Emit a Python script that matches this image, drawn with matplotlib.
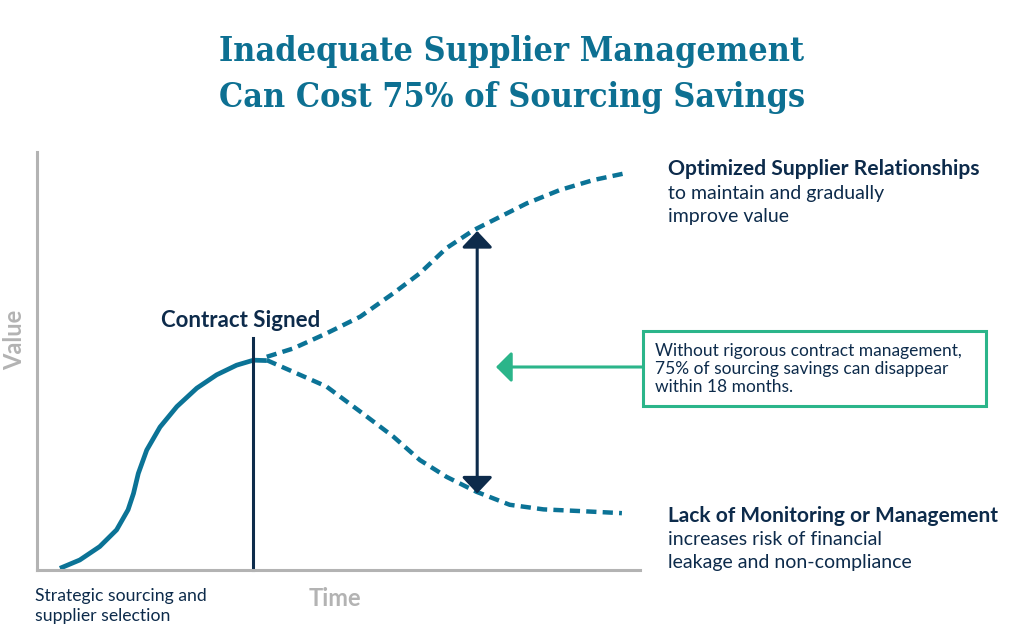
import numpy as np
import matplotlib
matplotlib.use("Agg")
import matplotlib.pyplot as plt
from matplotlib.patches import FancyArrowPatch, Rectangle

# values (time and value both on a 0-100 scale)
base_t = [3.8, 7.1, 10.4, 13.2, 15.1, 16.0, 16.8, 18.2, 20.4, 23.2, 26.5, 29.8, 33.1, 35.9, 38.1]
base_v = [0.4, 2.4, 5.6, 9.6, 14.4, 18.3, 23.1, 28.7, 34.2, 39.1, 43.5, 46.7, 49.0, 50.2, 50.1]

up_t = [38.1, 42.5, 48.0, 53.6, 59.1, 63.5, 67.9, 72.4, 76.8, 81.2, 86.7, 92.3, 97.5]
up_v = [51.0, 53.0, 56.6, 60.6, 66.2, 71.0, 77.0, 81.3, 84.5, 87.7, 90.9, 93.3, 94.9]

low_t = [38.1, 42.5, 48.0, 53.6, 59.1, 63.5, 67.9, 72.9, 78.4, 84.0, 90.0, 97.0]
low_v = [50.2, 47.4, 43.9, 37.9, 31.9, 26.3, 22.3, 18.7, 15.6, 14.5, 14.1, 13.6]

contract_t = 35.8
contract_top = 55.5
gap_t = 73.0
gap_top = 81.1
gap_bottom = 18.3

title_lines = ["Inadequate Supplier Management", "Can Cost 75% of Sourcing Savings"]
note = "Without rigorous contract management,\n75% of sourcing savings can disappear\nwithin 18 months."

TEAL = "#0b7396"
NAVY = "#0d2b4b"
GRAY = "#b3b3b3"
GREEN = "#2bb58a"
TITLE = "#0d7092"

plt.rcParams['font.family'] = ['Lato', 'DejaVu Sans']

W, H = 1024, 642
fig = plt.figure(figsize=(W / 100, H / 100), dpi=100)


def px(x, y):
    return x / W, 1 - y / H


ax = fig.add_axes([37 / W, (H - 570) / H, 603 / W, 418 / H])
ax.set_xlim(0, 100)
ax.set_ylim(0, 100)
ax.set_xticks([])
ax.set_yticks([])
for s in ["top", "right"]:
    ax.spines[s].set_visible(False)
for s in ["left", "bottom"]:
    ax.spines[s].set_color(GRAY)
    ax.spines[s].set_linewidth(2.2)

ax.plot(base_t, base_v, color=TEAL, lw=3.4, solid_capstyle="butt",
        solid_joinstyle="round", clip_on=False)
ax.plot(up_t, up_v, color=TEAL, lw=3.2, dashes=(2.3, 1.4), clip_on=False)
ax.plot(low_t, low_v, color=TEAL, lw=3.2, dashes=(2.3, 1.4), clip_on=False)
ax.plot([contract_t, contract_t], [0, contract_top], color=NAVY, lw=2.2, clip_on=False)

ax.annotate("", xy=(gap_t, gap_top), xytext=(gap_t, gap_bottom),
            arrowprops=dict(arrowstyle="<|-|>,head_length=0.5,head_width=0.47",
                            mutation_scale=20, color=NAVY, lw=2.2,
                            shrinkA=0, shrinkB=0),
            annotation_clip=False)

# callout box and arrow
fig.add_artist(Rectangle(px(643, 406), 343 / W, 75 / H, transform=fig.transFigure,
                         fill=False, edgecolor=GREEN, lw=2.2))
fig.add_artist(FancyArrowPatch(
    px(643, 367), px(496, 367), transform=fig.transFigure,
    arrowstyle="-|>,head_length=0.47,head_width=0.47", mutation_scale=20,
    color=GREEN, lw=2.2, shrinkA=0, shrinkB=0))

fig.text(*px(512, 52), title_lines[0], ha="center", va="center",
         fontsize=24.4, color=TITLE, family="DejaVu Serif", weight="bold",
         fontstretch="condensed")
fig.text(*px(512, 98), title_lines[1], ha="center", va="center",
         fontsize=24.4, color=TITLE, family="DejaVu Serif", weight="bold",
         fontstretch="condensed")

fig.text(*px(241, 320), "Contract Signed", ha="center", va="center",
         fontsize=16, color=NAVY, weight="bold")
fig.text(*px(35, 606), "Strategic sourcing and\nsupplier selection", ha="left", va="center",
         fontsize=12.7, color=NAVY, linespacing=1.28)
fig.text(*px(335, 598), "Time", ha="center", va="center", fontsize=17, color=GRAY, weight="bold")
fig.text(*px(15, 340), "Value", ha="center", va="center", fontsize=17, color=GRAY,
         weight="bold", rotation=90)

fig.text(*px(668, 169), "Optimized Supplier Relationships", ha="left", va="center",
         fontsize=15.2, color=NAVY, weight="bold")
fig.text(*px(668, 205), "to maintain and gradually\nimprove value", ha="left", va="center",
         fontsize=14, color=NAVY, linespacing=1.36)
fig.text(*px(668, 516), "Lack of Monitoring or Management", ha="left", va="center",
         fontsize=15, color=NAVY, weight="bold")
fig.text(*px(668, 551), "increases risk of financial\nleakage and non-compliance", ha="left",
         va="center", fontsize=14, color=NAVY, linespacing=1.36)

fig.text(*px(655, 369), note, ha="left", va="center", fontsize=12.5, color=NAVY,
         linespacing=1.13)

fig.savefig("out.png", dpi=100, facecolor="white")
